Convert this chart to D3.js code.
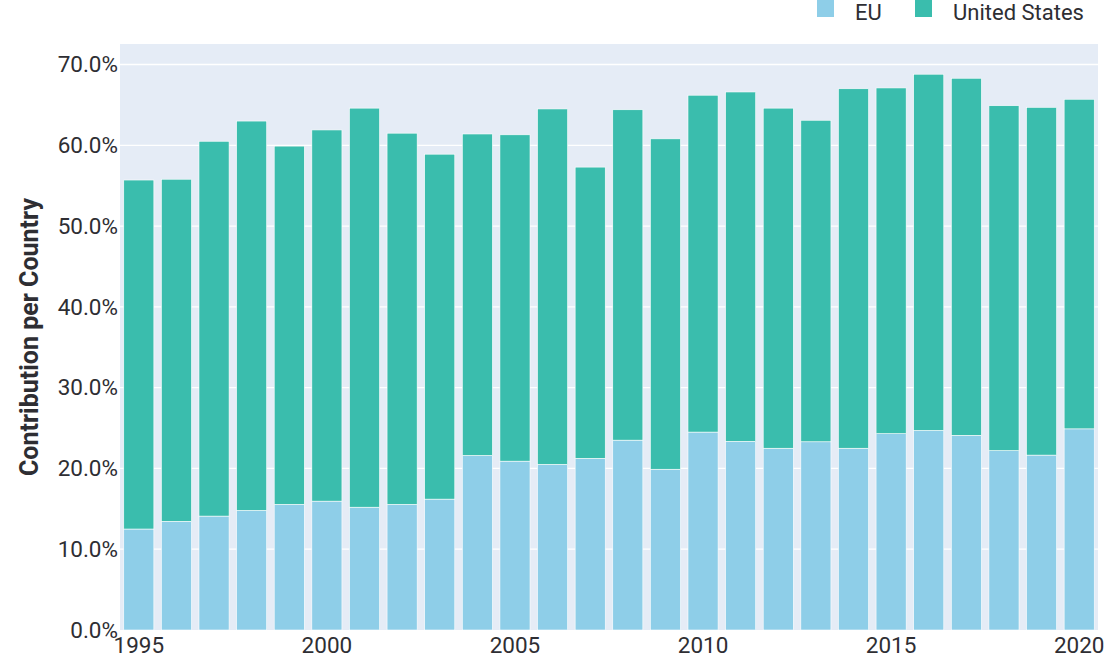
<!DOCTYPE html>
<html>
<head>
<meta charset="utf-8">
<script src="https://cdn.jsdelivr.net/npm/d3@7"></script>
<style>
  html, body { margin: 0; padding: 0; background: #ffffff; }
  svg { display: block; font-family: Roboto, "Open Sans", sans-serif; }
</style>
</head>
<body>
<svg id="chart" width="1116" height="668"></svg>
<script>
const years = [1995,1996,1997,1998,1999,2000,2001,2002,2003,2004,2005,2006,2007,2008,2009,2010,2011,2012,2013,2014,2015,2016,2017,2018,2019,2020];
const euValues = [12.5,13.45,14.1,14.8,15.55,15.95,15.2,15.55,16.2,21.6,20.9,20.5,21.25,23.5,19.9,24.5,23.35,22.5,23.3,22.5,24.3,24.7,24.1,22.2,21.65,24.9];
const totalValues = [55.7,55.8,60.5,63.0,59.9,61.9,64.6,61.5,58.9,61.4,61.3,64.5,57.3,64.4,60.8,66.2,66.6,64.6,63.1,67.0,67.1,68.8,68.3,64.9,64.7,65.7];
const usValues = totalValues.map((t, i) => +(t - euValues[i]).toFixed(2));
const seriesNames = ["EU", "United States"];
const seriesColors = ["#8ecee8", "#3abdad"];
const yTicks = [0,10,20,30,40,50,60,70];
const xTicks = [1995,2000,2005,2010,2015,2020];

(function () {
const svg = d3.select("#chart");
const mLeft = 120, mRight = 1098, mTop = 44, mBottom = 630;
const textColor = "#2e2e33";

const x = d3.scaleBand().domain(years).range([mLeft, mRight]).paddingInner(0.2).paddingOuter(0.1);
const y = d3.scaleLinear().domain([0, 72.54]).range([mBottom, mTop]);

// background
svg.append("rect").attr("x", mLeft).attr("y", mTop).attr("width", mRight - mLeft).attr("height", mBottom - mTop).attr("fill", "#e5ecf6");

// grid
svg.append("g").selectAll("line").data(yTicks.filter(d => d > 0)).join("line")
  .attr("x1", mLeft).attr("x2", mRight)
  .attr("y1", d => y(d)).attr("y2", d => y(d))
  .attr("stroke", "#ffffff").attr("stroke-width", 1.3);

// stacked data
const rows = years.map((yr, i) => ({ year: yr, EU: euValues[i], "United States": usValues[i] }));
const stack = d3.stack().keys(seriesNames)(rows);

svg.append("g").selectAll("g").data(stack).join("g")
  .attr("fill", (d, i) => seriesColors[i])
  .selectAll("rect").data(d => d).join("rect")
  .attr("x", d => x(d.data.year))
  .attr("width", x.bandwidth())
  .attr("y", d => y(d[1]))
  .attr("height", d => y(d[0]) - y(d[1]))
  .attr("stroke", "#ffffff").attr("stroke-width", 0.6);

// y axis
const yAxis = d3.axisLeft(y).tickValues(yTicks).tickFormat(d => d.toFixed(1) + "%").tickSize(0).tickPadding(2);
const gy = svg.append("g").attr("transform", `translate(${mLeft},0)`).call(yAxis);
gy.select(".domain").remove();
gy.selectAll("text").attr("fill", textColor).attr("font-size", 22.5).attr("font-family", "Roboto, sans-serif");

// x axis
const xAxis = d3.axisBottom(x).tickValues(xTicks).tickSize(0).tickPadding(7);
const gx = svg.append("g").attr("transform", `translate(0,${mBottom})`).call(xAxis);
gx.select(".domain").remove();
gx.selectAll("text").attr("fill", textColor).attr("font-size", 22.5).attr("font-family", "Roboto, sans-serif");

// y title
svg.append("text")
  .attr("transform", `translate(38,${(mTop + mBottom) / 2}) rotate(-90)`)
  .attr("text-anchor", "middle")
  .attr("font-size", 25).attr("font-weight", "bold").attr("fill", textColor)
  .text("Contribution per Country");

// legend
const legendX = [817, 915];
const lg = svg.append("g").selectAll("g").data(seriesNames).join("g")
  .attr("transform", (d, i) => `translate(${legendX[i]},0)`);
lg.append("rect").attr("x", 0).attr("y", 0).attr("width", 17).attr("height", 17)
  .attr("fill", (d, i) => seriesColors[i]);
lg.append("text").attr("x", 38).attr("y", 20).attr("font-size", 22).attr("fill", textColor).text(d => d);
})();
</script>
</body>
</html>
